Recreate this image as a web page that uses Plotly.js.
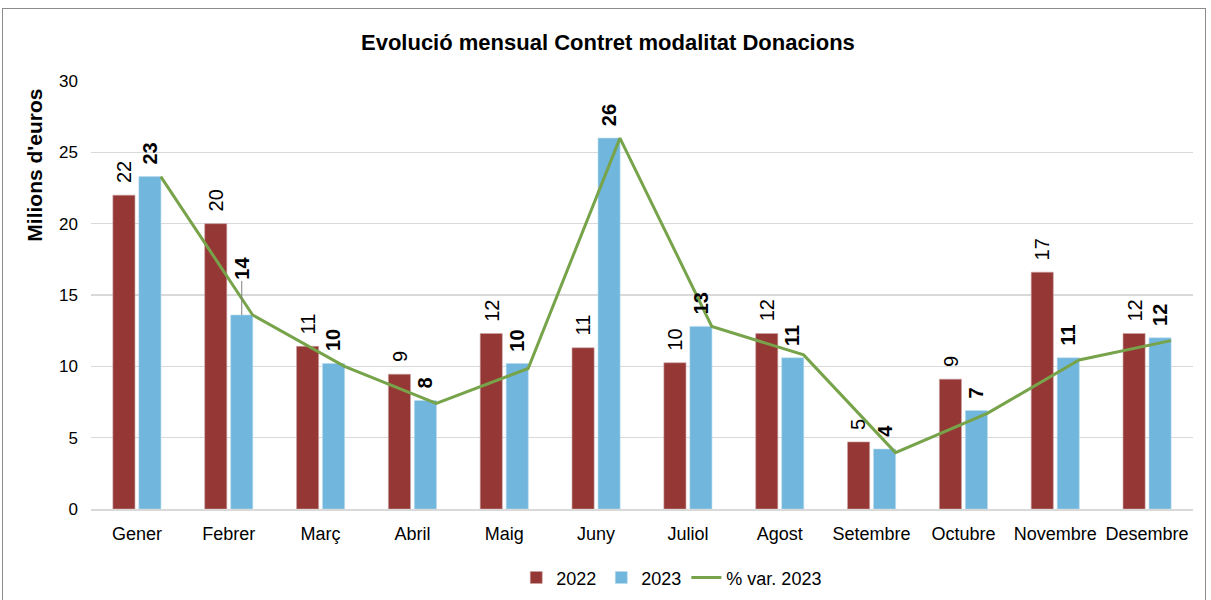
<!DOCTYPE html>
<html>
<head>
<meta charset="utf-8">
<script src="https://cdn.plot.ly/plotly-3.0.1.min.js"></script>
<style>
  html, body { margin: 0; padding: 0; background: #fff; }
  #frame { position: absolute; left: 2px; top: 8px; width: 1204px; height: 600px; border: 1px solid #8c8c8c; box-sizing: border-box; pointer-events: none; z-index: 5; }
  #chart { width: 1211px; height: 600px; }
</style>
</head>
<body>
<div id="frame"></div>
<div id="chart"></div>
<script>
const months = ['Gener','Febrer','Març','Abril','Maig','Juny','Juliol','Agost','Setembre','Octubre','Novembre','Desembre'];
const values2022 = [22.0, 20.0, 11.4, 9.45, 12.3, 11.3, 10.25, 12.3, 4.7, 9.1, 16.6, 12.3];
const values2023 = [23.3, 13.6, 10.2, 7.6, 10.2, 26.0, 12.8, 10.6, 4.2, 6.9, 10.6, 12.0];
const varLine2023 = [23.3, 13.6, 10.0, 7.4, 9.85, 26.0, 12.8, 10.8, 3.95, 6.7, 10.45, 11.8];
const yTicks = [0, 5, 10, 15, 20, 25, 30];

const idx = months.map((m, i) => i);
const lineShift = 0.26;      // line vertices sit at right edge of the 2023 bar
const barOffset = 0.1415;    // centre of each bar within its group
const FONT = 'Liberation Sans, Arial, sans-serif';
const LABEL_SIZE = 20;

const traces = [
  {
    type: 'bar', name: '2022', x: idx, y: values2022,
    marker: { color: '#953735', line: { color: '#c9a3a2', width: 0.6 } },
    hoverinfo: 'y'
  },
  {
    type: 'bar', name: '2023', x: idx, y: values2023,
    marker: { color: '#71B6DC', line: { color: '#b9dcee', width: 0.6 } },
    hoverinfo: 'y'
  },
  {
    type: 'scatter', mode: 'lines', name: '% var. 2023',
    x: idx.map(i => i + lineShift), y: varLine2023,
    line: { color: '#77A34A', width: 3 },
    hoverinfo: 'y'
  }
];

const annotations = [];
values2022.forEach((v, i) => {
  annotations.push({
    x: i - barOffset, y: v, xref: 'x', yref: 'y',
    text: String(Math.round(v)), textangle: -90, showarrow: false,
    xanchor: 'center', yanchor: 'bottom', yshift: 10,
    font: { family: FONT, size: LABEL_SIZE, color: '#000' }
  });
});
const leaderIdx = 1; // Febrer 2023 label lifted with a leader line
values2023.forEach((v, i) => {
  if (i === leaderIdx) {
    annotations.push({
      x: i + barOffset, y: v, xref: 'x', yref: 'y',
      text: '<b>' + Math.round(v) + '</b>', textangle: -90,
      showarrow: true, arrowhead: 0, arrowwidth: 1, arrowcolor: '#7f7f7f',
      ax: 0, ay: -47, standoff: 0,
      font: { family: FONT, size: LABEL_SIZE, color: '#000' }
    });
  } else {
    annotations.push({
      x: i + barOffset, y: v, xref: 'x', yref: 'y',
      text: '<b>' + Math.round(v) + '</b>', textangle: -90, showarrow: false,
      xanchor: 'center', yanchor: 'bottom', yshift: 10,
      font: { family: FONT, size: LABEL_SIZE, color: '#000' }
    });
  }
});
annotations.push({
  text: "<b>Milions d'euros</b>", xref: 'paper', yref: 'paper',
  x: -0.051, y: 0.804, xanchor: 'center', yanchor: 'middle',
  textangle: -90, showarrow: false,
  font: { family: FONT, size: 21, color: '#000' }
});

const layout = {
  width: 1211, height: 600,
  margin: { l: 91, r: 18, t: 81, b: 91 },
  paper_bgcolor: '#fff', plot_bgcolor: '#fff',
  font: { family: FONT, size: 18, color: '#000' },
  title: {
    text: '<b>Evolució mensual Contret modalitat Donacions</b>',
    font: { family: FONT, size: 22, color: '#000' },
    x: 0.502, xanchor: 'center', y: 0.93, yanchor: 'middle'
  },
  barmode: 'group', bargap: 0.434, bargroupgap: 0.15,
  xaxis: {
    range: [-0.5, 11.5], tickmode: 'array', tickvals: idx, ticktext: months,
    showgrid: false, zeroline: false, showline: true, linecolor: '#d9d9d9', linewidth: 1.5,
    ticks: '', ticklabelstandoff: 8,
    tickfont: { family: FONT, size: 18, color: '#000' }, fixedrange: true
  },
  yaxis: {
    range: [0, 30], tickmode: 'array', tickvals: yTicks,
    showgrid: true, gridcolor: '#d9d9d9', gridwidth: 1.2, zeroline: false,
    showline: false, ticks: '', ticklabelstandoff: 12,
    tickfont: { family: FONT, size: 17, color: '#000' }, fixedrange: true
  },
  annotations: annotations,
  legend: {
    orientation: 'h', x: 0.527, xanchor: 'center',
    yref: 'container', y: 0.037, yanchor: 'middle',
    font: { family: FONT, size: 18, color: '#000' },
    itemwidth: 30, tracegroupgap: 0, traceorder: 'normal'
  },
  showlegend: true
};

Plotly.newPlot('chart', traces, layout, { displayModeBar: false, staticPlot: true });
</script>
</body>
</html>
